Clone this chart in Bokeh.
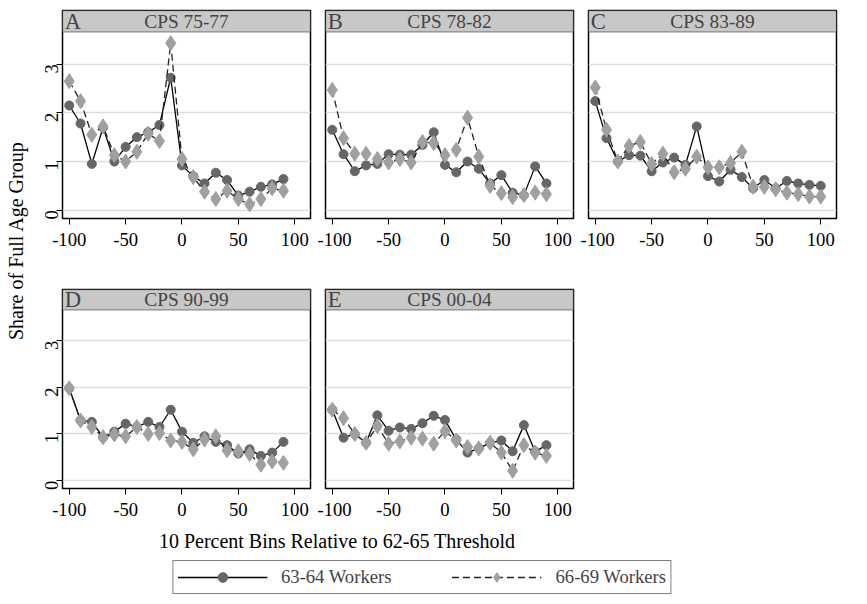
from bokeh.plotting import figure
from bokeh.layouts import column, row
from bokeh.models import Range1d, Div, Legend, FixedTicker, BoxAnnotation, Label
from bokeh.embed import file_html
from bokeh.resources import INLINE
import math

FONT = "Liberation Serif"

# data
bins = [-100, -90, -80, -70, -60, -50, -40, -30, -20, -10, 0, 10, 20, 30, 40, 50, 60, 70, 80, 90]
bins_c = bins + [100]

a_6364 = [2.15, 1.78, 0.95, 1.7, 1.0, 1.3, 1.5, 1.6, 1.75, 2.72, 0.92, 0.7, 0.55, 0.77, 0.62, 0.3, 0.38, 0.48, 0.53, 0.64]
a_6669 = [2.65, 2.24, 1.55, 1.72, 1.13, 1.0, 1.2, 1.57, 1.42, 3.43, 1.05, 0.68, 0.38, 0.23, 0.4, 0.23, 0.12, 0.23, 0.45, 0.4]
b_6364 = [1.65, 1.15, 0.8, 0.92, 0.95, 1.15, 1.14, 1.14, 1.34, 1.6, 0.93, 0.78, 1.0, 0.85, 0.55, 0.72, 0.36, 0.31, 0.9, 0.55]
b_6669 = [2.47, 1.48, 1.16, 1.16, 1.05, 0.98, 1.05, 0.98, 1.4, 1.38, 1.13, 1.24, 1.9, 1.1, 0.5, 0.35, 0.27, 0.31, 0.36, 0.33]
c_6364 = [2.24, 1.48, 1.0, 1.13, 1.12, 0.8, 0.98, 1.08, 0.93, 1.72, 0.7, 0.59, 0.83, 0.68, 0.45, 0.62, 0.45, 0.6, 0.55, 0.52, 0.5]
c_6669 = [2.52, 1.65, 1.0, 1.32, 1.4, 0.95, 1.16, 0.78, 0.85, 1.1, 0.88, 0.88, 0.97, 1.2, 0.48, 0.48, 0.43, 0.36, 0.33, 0.28, 0.28]
d_6364 = [1.98, 1.29, 1.26, 0.93, 1.05, 1.22, 1.15, 1.26, 1.15, 1.52, 1.05, 0.81, 0.95, 0.83, 0.76, 0.58, 0.67, 0.53, 0.6, 0.83]
d_6669 = [1.98, 1.29, 1.15, 0.93, 0.99, 0.95, 1.15, 1.0, 1.02, 0.86, 0.83, 0.67, 0.88, 0.95, 0.65, 0.63, 0.57, 0.34, 0.41, 0.38]
e_6364 = [1.52, 0.92, 1.0, 0.81, 1.4, 1.07, 1.14, 1.11, 1.23, 1.39, 1.3, 0.88, 0.6, 0.69, 0.81, 0.86, 0.63, 1.19, 0.62, 0.76]
e_6669 = [1.52, 1.34, 1.0, 0.81, 1.17, 0.79, 0.84, 0.92, 0.9, 0.79, 1.06, 0.86, 0.72, 0.69, 0.81, 0.6, 0.21, 0.76, 0.6, 0.53]

panels = [
    ("A", "CPS 75-77", bins, a_6364, a_6669),
    ("B", "CPS 78-82", bins, b_6364, b_6669),
    ("C", "CPS 83-89", bins_c, c_6364, c_6669),
    ("D", "CPS 90-99", bins, d_6364, d_6669),
    ("E", "CPS 00-04", bins, e_6364, e_6669),
]

Y_TOP = 4.1      # top of the strip
STRIP = 3.66     # bottom of the strip

def make_panel(letter, name, xs, y1, y2, first_col, top_row):
    if top_row:
        h, bt, bb = 274, 10, 56
    else:
        h, bt, bb = 248, 15, 34
    p = figure(width=287 if first_col else 263, height=h, output_backend="svg",
               toolbar_location=None, x_range=Range1d(-106, 114), y_range=Range1d(-0.17, Y_TOP),
               min_border_left=32 if first_col else 8, min_border_right=7,
               min_border_top=bt, min_border_bottom=bb)
    p.outline_line_color = "black"
    p.outline_line_width = 1.5
    p.xgrid.visible = False
    p.ygrid.ticker = FixedTicker(ticks=[0, 1, 2, 3])
    p.ygrid.grid_line_color = "#dddddd"
    p.ygrid.grid_line_width = 1.5
    p.xaxis.ticker = FixedTicker(ticks=[-100, -50, 0, 50, 100])
    p.xaxis.major_label_overrides = {-100: "-100", -50: "-50", 0: "0", 50: "50", 100: "100"}
    p.yaxis.ticker = FixedTicker(ticks=[0, 1, 2, 3])
    for ax in (p.xaxis, p.yaxis):
        ax.minor_tick_line_color = None
        ax.axis_line_color = None
        ax.major_label_text_font = FONT
        ax.major_label_text_font_size = "14pt"
        ax.major_label_text_color = "black"
        ax.major_tick_out = 6
        ax.major_tick_in = 0
    p.xaxis.major_label_standoff = 8
    p.yaxis.major_label_orientation = math.pi / 2
    if not first_col:
        p.yaxis.visible = False
    p.add_layout(BoxAnnotation(bottom=STRIP, fill_color="#c8c8c8", fill_alpha=1,
                               line_color="black", line_width=1.5))
    p.add_layout(Label(x=-104, y=(STRIP + Y_TOP) / 2, text=letter, text_baseline="middle",
                       text_font=FONT, text_font_size="17pt"))
    p.add_layout(Label(x=4, y=(STRIP + Y_TOP) / 2, text=name, text_baseline="middle",
                       text_align="center", text_font=FONT, text_font_size="14.5pt"))
    p.line(xs, y1, line_color="black", line_width=1.3)
    p.scatter(xs, y1, marker="circle", size=9, fill_color="#666666", line_color="#666666")
    p.line(xs, y2, line_color="#222222", line_width=1.3, line_dash="7 4")
    p.scatter(xs, y2, marker="diamond", size=15, fill_color="#a0a0a0", line_color="#a0a0a0")
    return p

figs = []
for i, (letter, name, xs, y1, y2) in enumerate(panels):
    figs.append(make_panel(letter, name, xs, y1, y2, i % 3 == 0, i < 3))

ylab = figure(width=30, height=522, output_backend="svg", toolbar_location=None,
              x_range=Range1d(0, 1), y_range=Range1d(0, 1), min_border=0)
ylab.axis.visible = False
ylab.grid.visible = False
ylab.outline_line_color = None
ylab.text([0.5], [0.54], text=["Share of Full Age Group"], angle=math.pi / 2,
          text_align="center", text_baseline="middle", text_font=FONT, text_font_size="15pt")

xlab = Div(text="10 Percent Bins Relative to 62-65 Threshold", width=664, height=26,
           styles={"text-align": "center", "font-family": FONT, "font-size": "15pt"})

leg = figure(width=843, height=38, output_backend="svg", toolbar_location=None,
             x_range=Range1d(0, 1), y_range=Range1d(0, 1), min_border=0)
leg.axis.visible = False
leg.grid.visible = False
leg.outline_line_color = None
r1 = leg.line([5, 6], [5, 6], line_color="black", line_width=1.3)
r2 = leg.scatter([5], [5], marker="circle", size=9, fill_color="#666666", line_color="#666666")
r3 = leg.line([5, 6], [5, 6], line_color="#222222", line_width=1.3, line_dash="7 4")
r4 = leg.scatter([5], [5], marker="diamond", size=15, fill_color="#a0a0a0", line_color="#a0a0a0")
legend = Legend(items=[("63-64 Workers", [r1, r2]), ("66-69 Workers", [r3, r4])],
                orientation="horizontal", location="center", label_text_font=FONT,
                label_text_font_size="14pt", glyph_width=90, glyph_height=24, spacing=60,
                padding=4, border_line_color="black", label_standoff=14)
leg.add_layout(legend, "center")

grid = column(row(figs[0], figs[1], figs[2]), row(figs[3], figs[4]))
p = column(row(ylab, grid), xlab, leg)

open("out.html", "w").write(file_html(p, INLINE))
